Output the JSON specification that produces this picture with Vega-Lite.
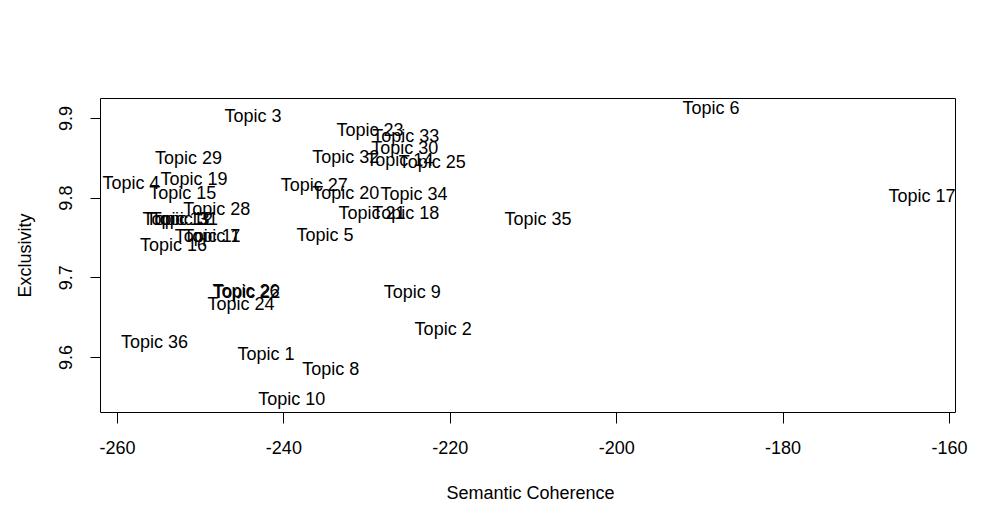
{
  "$schema": "https://vega.github.io/schema/vega-lite/v6.json",
  "width": 855,
  "height": 314,
  "autosize": {"type": "none"},
  "padding": {"left": 100, "top": 98, "right": 39, "bottom": 110},
  "background": "white",
  "config": {
    "view": {"stroke": "black", "strokeWidth": 1},
    "font": "Liberation Sans"
  },
  "data": {
    "values": [
      {"topic": "Topic 1", "coherence": -242.1, "exclusivity": 9.603},
      {"topic": "Topic 2", "coherence": -220.8, "exclusivity": 9.634},
      {"topic": "Topic 3", "coherence": -243.65, "exclusivity": 9.901},
      {"topic": "Topic 4", "coherence": -258.3, "exclusivity": 9.817},
      {"topic": "Topic 5", "coherence": -235.0, "exclusivity": 9.752},
      {"topic": "Topic 6", "coherence": -188.6, "exclusivity": 9.911},
      {"topic": "Topic 7", "coherence": -248.6, "exclusivity": 9.751},
      {"topic": "Topic 8", "coherence": -234.3, "exclusivity": 9.584},
      {"topic": "Topic 9", "coherence": -224.5, "exclusivity": 9.680},
      {"topic": "Topic 10", "coherence": -239.0, "exclusivity": 9.546},
      {"topic": "Topic 11", "coherence": -249.1, "exclusivity": 9.751},
      {"topic": "Topic 12", "coherence": -252.5, "exclusivity": 9.772},
      {"topic": "Topic 13", "coherence": -252.9, "exclusivity": 9.772},
      {"topic": "Topic 14", "coherence": -226.0, "exclusivity": 9.846},
      {"topic": "Topic 15", "coherence": -252.1, "exclusivity": 9.805},
      {"topic": "Topic 16", "coherence": -253.2, "exclusivity": 9.739},
      {"topic": "Topic 17", "coherence": -163.25, "exclusivity": 9.801},
      {"topic": "Topic 18", "coherence": -225.3, "exclusivity": 9.779},
      {"topic": "Topic 19", "coherence": -250.75, "exclusivity": 9.822},
      {"topic": "Topic 20", "coherence": -232.5, "exclusivity": 9.805},
      {"topic": "Topic 21", "coherence": -229.35, "exclusivity": 9.779},
      {"topic": "Topic 22", "coherence": -244.4, "exclusivity": 9.680},
      {"topic": "Topic 23", "coherence": -229.6, "exclusivity": 9.884},
      {"topic": "Topic 24", "coherence": -245.1, "exclusivity": 9.665},
      {"topic": "Topic 25", "coherence": -222.1, "exclusivity": 9.844},
      {"topic": "Topic 26", "coherence": -244.5, "exclusivity": 9.681},
      {"topic": "Topic 27", "coherence": -236.3, "exclusivity": 9.815},
      {"topic": "Topic 28", "coherence": -248.0, "exclusivity": 9.785},
      {"topic": "Topic 29", "coherence": -251.4, "exclusivity": 9.849},
      {"topic": "Topic 30", "coherence": -225.4, "exclusivity": 9.861},
      {"topic": "Topic 31", "coherence": -251.9, "exclusivity": 9.772},
      {"topic": "Topic 32", "coherence": -232.5, "exclusivity": 9.850},
      {"topic": "Topic 33", "coherence": -225.3, "exclusivity": 9.876},
      {"topic": "Topic 34", "coherence": -224.3, "exclusivity": 9.803},
      {"topic": "Topic 35", "coherence": -209.4, "exclusivity": 9.772},
      {"topic": "Topic 36", "coherence": -255.5, "exclusivity": 9.617}
    ]
  },
  "mark": {
    "type": "text",
    "align": "center",
    "baseline": "middle",
    "fontSize": 18,
    "color": "black",
    "clip": false
  },
  "encoding": {
    "x": {
      "field": "coherence",
      "type": "quantitative",
      "scale": {"domain": [-262.04, -159.28], "nice": false, "zero": false},
      "axis": {
        "title": "Semantic Coherence",
        "values": [-260, -240, -220, -200, -180, -160],
        "labelExpr": "replace(datum.label, '−', '-')",
        "grid": false,
        "domain": false,
        "ticks": true,
        "tickSize": 11,
        "tickColor": "black",
        "tickWidth": 1,
        "labelFontSize": 18,
        "labelColor": "black",
        "labelBaseline": "middle",
        "labelPadding": 25,
        "labelFont": "Liberation Sans",
        "titleFont": "Liberation Sans",
        "titleFontSize": 18,
        "titleFontWeight": "normal",
        "titleColor": "black",
        "titleBaseline": "middle",
        "titleX": 430,
        "titleY": 81,
        "labelFlush": false,
        "labelOverlap": false
      }
    },
    "y": {
      "field": "exclusivity",
      "type": "quantitative",
      "scale": {"domain": [9.531, 9.925], "nice": false, "zero": false},
      "axis": {
        "title": "Exclusivity",
        "values": [9.6, 9.7, 9.8, 9.9],
        "format": ".1f",
        "grid": false,
        "domain": false,
        "tickSize": 10,
        "tickColor": "black",
        "labelFontSize": 18,
        "labelColor": "black",
        "labelAngle": 270,
        "labelAlign": "center",
        "labelBaseline": "middle",
        "labelPadding": 24,
        "labelFont": "Liberation Sans",
        "titleFont": "Liberation Sans",
        "titleFontSize": 18,
        "titleFontWeight": "normal",
        "titleColor": "black",
        "titleAngle": 270,
        "titleAlign": "center",
        "titleBaseline": "middle",
        "titleX": -75,
        "titleY": 157,
        "labelFlush": false,
        "labelOverlap": false
      }
    },
    "text": {"field": "topic", "type": "nominal"}
  }
}
